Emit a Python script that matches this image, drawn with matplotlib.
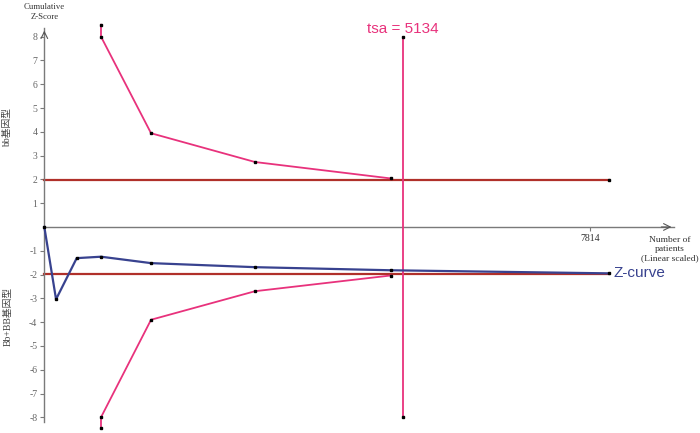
import matplotlib
matplotlib.use('Agg')
import matplotlib.pyplot as plt
import numpy as np

# cumulative z-curve
z_n = [0, 168, 464, 812, 1529, 3019, 4962, 8094]
z_val = [0, -3.04, -1.31, -1.25, -1.52, -1.69, -1.82, -1.95]

# trial sequential monitoring boundaries
b_n = [812, 812, 1529, 3019, 4962]
b_up = [8.5, 8.0, 3.94, 2.73, 2.04]
b_lo = [-8.45, -8.0, -3.9, -2.7, -2.04]

conv = 1.96
conv_n = [0, 8094]
tsa = 5134
tsa_z = [8.0, -8.0]
x_tick = [7814]
y_ticks = [-8, -7, -6, -5, -4, -3, -2, -1, 1, 2, 3, 4, 5, 6, 7, 8]

pink = '#e8327c'
blue = '#38428f'
red = '#b0302a'
grey = '#7a7a7a'
serif = ['Liberation Serif', 'Noto Sans CJK SC']

fig = plt.figure(figsize=(7, 4.33), dpi=100)
ax = fig.add_axes([0, 0, 1, 1])
ax.set_xlim(-635, 9394)
ax.set_ylim(-8.66, 9.54)

for s in ['top', 'right']:
    ax.spines[s].set_visible(False)
ax.spines['left'].set_position(('data', 0))
ax.spines['bottom'].set_position(('data', 0))
ax.spines['left'].set_bounds(-8.2, 8.37)
ax.spines['bottom'].set_bounds(0, 9025)
ax.spines['left'].set_color(grey)
ax.spines['bottom'].set_color(grey)
ax.spines['left'].set_linewidth(1.0)
ax.spines['bottom'].set_linewidth(1.0)

ax.set_yticks(y_ticks)
ax.set_yticklabels([str(v) for v in y_ticks], family=serif, fontsize=7, color='#666666')
ax.set_xticks(x_tick)
ax.set_xticklabels([str(v) for v in x_tick], family=serif, fontsize=7, color='#333333')
ax.tick_params(axis='both', direction='out', length=3, width=0.8, color=grey, pad=2)

# arrow heads
ax.annotate('', xy=(9025, 0), xytext=(8800, 0),
            arrowprops=dict(arrowstyle='->', color='#555555', lw=0.8, mutation_scale=12))
ax.annotate('', xy=(0, 8.37), xytext=(0, 8.0),
            arrowprops=dict(arrowstyle='->', color='#555555', lw=0.8, mutation_scale=12))

# conventional boundaries
ax.plot(conv_n, [conv, conv], color=red, lw=1.6, zorder=2)
ax.plot(conv_n, [-conv, -conv], color=red, lw=1.6, zorder=2)
ax.plot(conv_n[-1], conv, 's', color='black', ms=1.8, zorder=5)

# tsa vertical line
ax.plot([tsa, tsa], tsa_z, color=pink, lw=1.3, zorder=3)
ax.plot([tsa, tsa], tsa_z, 's', color='black', ms=1.6, zorder=5)

# monitoring boundaries
ax.plot(b_n, b_up, color=pink, lw=1.3, marker='s', ms=1.6, mfc='black', mec='black', zorder=4)
ax.plot(b_n, b_lo, color=pink, lw=1.3, marker='s', ms=1.6, mfc='black', mec='black', zorder=4)

# z-curve
ax.plot(z_n, z_val, color=blue, lw=1.6, marker='s', ms=2.0, mfc='black', mec='black', zorder=6)

ax.text(tsa, 8.32, 'tsa = 5134', color=pink, fontsize=11, ha='center', va='center',
        family='Liberation Sans')
ax.text(z_n[-1] + 60, z_val[-1], 'Z-curve', color=blue, fontsize=11, ha='left', va='center',
        family='Liberation Sans')
ax.text(0, 8.66, 'Cumulative\nZ-Score', fontsize=6.3, ha='center', va='bottom', family=serif,
        color='#333333', linespacing=1.25)
ax.text(8964, -0.38, 'Number of\npatients\n(Linear scaled)', fontsize=6.8, ha='center', va='top',
        family=serif, color='#333333', linespacing=1.15)
ax.text(-520, 4.2, 'bb基因型', rotation=90, fontsize=7, ha='center', va='center',
        family=serif, color='#444444')
ax.text(-520, -3.78, 'Bb+BB基因型', rotation=90, fontsize=7, ha='center', va='center',
        family=serif, color='#444444')

fig.savefig('out.png', dpi=100)
